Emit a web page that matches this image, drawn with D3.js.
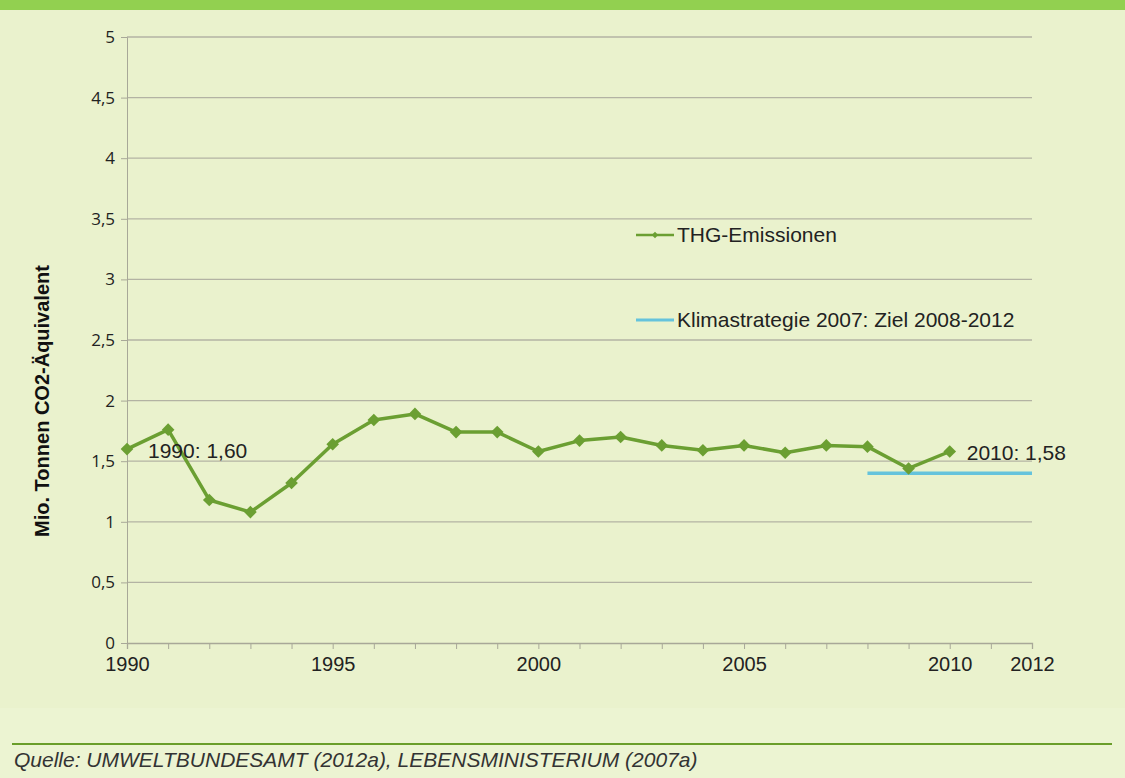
<!DOCTYPE html>
<html>
<head>
<meta charset="utf-8">
<script src="https://cdn.jsdelivr.net/npm/d3@7"></script>
<style>
  body { margin: 0; background: #eaf2cd; }
  svg { display: block; font-family: "Liberation Sans", Arial, sans-serif; }
</style>
</head>
<body>
<div class="chart"></div>
<script>
// data
const years = [1990, 1991, 1992, 1993, 1994, 1995, 1996, 1997, 1998, 1999, 2000,
               2001, 2002, 2003, 2004, 2005, 2006, 2007, 2008, 2009, 2010];
const emissions = [1.60, 1.76, 1.18, 1.08, 1.32, 1.64, 1.84, 1.89, 1.74, 1.74, 1.58,
                   1.67, 1.70, 1.63, 1.59, 1.63, 1.57, 1.63, 1.62, 1.44, 1.58];
const targetYears = [2008, 2012];
const targetValue = 1.40;
const yTicks = [0, 0.5, 1, 1.5, 2, 2.5, 3, 3.5, 4, 4.5, 5];
const xTickLabels = [1990, 1995, 2000, 2005, 2010, 2012];
const seriesNames = ["THG-Emissionen", "Klimastrategie 2007: Ziel 2008-2012"];

const W = 1125, H = 778;
const svg = d3.select('div.chart').append('svg')
    .attr('width', W)
    .attr('height', H);

svg.append('rect').attr('width', W).attr('height', H).attr('fill', '#eaf2cd');
svg.append('rect').attr('y', 708).attr('width', W).attr('height', H - 708).attr('fill', '#ecf4d2');
// top band
svg.append('rect').attr('width', W).attr('height', 10).attr('fill', '#92d050');

const x = d3.scaleLinear().domain([1990, 2012]).range([127, 1032]);
const y = d3.scaleLinear().domain([0, 5]).range([643, 37]);

// grid lines
svg.append('g')
  .selectAll('line')
  .data(yTicks.filter(d => d > 0))
  .enter().append('line')
  .attr('x1', x(1990)).attr('x2', x(2012))
  .attr('y1', d => y(d)).attr('y2', d => y(d))
  .attr('stroke', '#b3b3a3').attr('stroke-width', 1.3);

// y axis
const yAxis = svg.append('g')
  .attr('transform', `translate(${x(1990)},0)`)
  .call(d3.axisLeft(y).tickValues(yTicks).tickSize(6).tickPadding(6)
    .tickFormat(d => String(d).replace('.', ',')));
yAxis.attr('font-size', null).attr('font-family', null);
yAxis.select('.domain').attr('stroke', '#a8a898');
yAxis.selectAll('.tick line').attr('stroke', '#a8a898');
yAxis.selectAll('text').style('font-size', '17px').attr('fill', '#222')
  .style('font-family', '"Open Sans", sans-serif');

// x axis
const xAxis = svg.append('g')
  .attr('transform', `translate(0,${y(0)})`)
  .call(d3.axisBottom(x).tickValues(d3.range(1990, 2013)).tickSize(6).tickPadding(8)
    .tickFormat(d => xTickLabels.includes(d) ? d : ''));
xAxis.attr('font-size', null).attr('font-family', null);
xAxis.select('.domain').attr('stroke', '#a8a898').attr('stroke-width', 1.3);
xAxis.selectAll('.tick line').attr('stroke', '#a8a898');
xAxis.selectAll('text').style('font-size', '20px').attr('fill', '#222');

// y title
svg.append('text')
  .attr('transform', `translate(49,${y(2.5) + 61}) rotate(-90)`)
  .attr('text-anchor', 'middle')
  .attr('font-weight', 'bold')
  .style('font-size', '20px')
  .attr('fill', '#111')
  .text('Mio. Tonnen CO2-Äquivalent');

// target line
svg.append('line')
  .attr('x1', x(targetYears[0])).attr('x2', x(targetYears[1]))
  .attr('y1', y(targetValue)).attr('y2', y(targetValue))
  .attr('stroke', '#65c3dc').attr('stroke-width', 3.5);

// emissions line
const pts = years.map((yr, i) => [yr, emissions[i]]);
const lineGen = d3.line().x(d => x(d[0])).y(d => y(d[1]));
svg.append('path')
  .datum(pts)
  .attr('d', lineGen)
  .attr('fill', 'none')
  .attr('stroke', '#6b9f32')
  .attr('stroke-width', 3.5)
  .attr('stroke-linejoin', 'round');

const diamond = d3.symbol().type(d3.symbolSquare).size(80);
svg.append('g')
  .selectAll('path')
  .data(pts)
  .enter().append('path')
  .attr('d', diamond)
  .attr('transform', d => `translate(${x(d[0])},${y(d[1])}) rotate(45)`)
  .attr('fill', '#6b9f32');

// data labels
const fmt = v => v.toFixed(2).replace('.', ',');
svg.append('text')
  .attr('x', x(1990) + 21).attr('y', y(emissions[0]) + 9)
  .style('font-size', '21px').attr('fill', '#222')
  .text(`${years[0]}: ${fmt(emissions[0])}`);
svg.append('text')
  .attr('x', x(2010) + 17).attr('y', y(emissions[emissions.length - 1]) + 8)
  .style('font-size', '21px').attr('fill', '#222')
  .text(`${years[years.length - 1]}: ${fmt(emissions[emissions.length - 1])}`);

// legend
const lg = svg.append('g');
lg.append('line').attr('x1', 636).attr('x2', 674).attr('y1', 235).attr('y2', 235)
  .attr('stroke', '#6b9f32').attr('stroke-width', 2.5);
lg.append('path').attr('d', d3.symbol().type(d3.symbolSquare).size(20))
  .attr('transform', 'translate(655,235) rotate(45)').attr('fill', '#6b9f32');
lg.append('text').attr('x', 677).attr('y', 242).style('font-size', '21px').attr('fill', '#222')
  .text(seriesNames[0]);
lg.append('line').attr('x1', 636).attr('x2', 674).attr('y1', 320).attr('y2', 320)
  .attr('stroke', '#65c3dc').attr('stroke-width', 3);
lg.append('text').attr('x', 677).attr('y', 327).style('font-size', '21px').attr('fill', '#222')
  .text(seriesNames[1]);

// source
svg.append('line').attr('x1', 12).attr('x2', 1112).attr('y1', 744).attr('y2', 744)
  .attr('stroke', '#6a9e2a').attr('stroke-width', 2);
svg.append('text').attr('x', 14).attr('y', 767)
  .style('font-size', '21px').attr('font-style', 'italic').attr('fill', '#333')
  .text('Quelle: UMWELTBUNDESAMT (2012a), LEBENSMINISTERIUM (2007a)');
</script>
</body>
</html>
